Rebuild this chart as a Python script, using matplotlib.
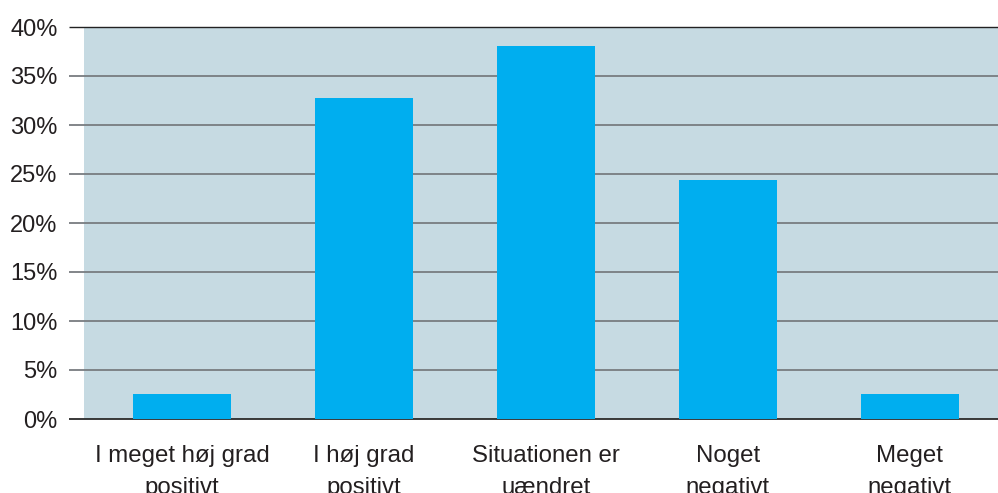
import matplotlib.pyplot as plt

plt.rcParams['font.family'] = ['Liberation Sans', 'DejaVu Sans']

# Survey answers and share of respondents (%)
categories = ['I meget høj grad\npositivt', 'I høj grad\npositivt', 'Situationen er\nuændret',
              'Noget\nnegativt', 'Meget\nnegativt']
shares = [2.6, 32.8, 38.1, 24.4, 2.6]
y_ticks = [0, 5, 10, 15, 20, 25, 30, 35, 40]
y_labels = [f'{t}%' for t in y_ticks]

text_color = '#231f20'

fig = plt.figure(figsize=(9.98, 4.93), dpi=100)
ax = fig.add_axes([84 / 998, 74 / 493, 914 / 998, 392 / 493])
ax.set_facecolor('#c6dae2')

x = range(len(categories))
ax.bar(x, shares, width=0.54, color='#00aeef', zorder=3)

ax.set_xlim(-0.538, 4.484)
ax.set_ylim(0, 40)

# horizontal rules reach a little past the left edge of the plot area
ext = -15 / 914
for t in y_ticks:
    if t == 0:
        col, lw = '#2a2a2a', 1.3
    elif t == 40:
        col, lw = '#222222', 1.0
    else:
        col, lw = '#787c80', 1.3
    ax.hlines(t, ext, 1, transform=ax.get_yaxis_transform(), colors=col,
              linewidth=lw, clip_on=False, zorder=2)

ax.set_yticks(y_ticks)
ax.set_yticklabels(y_labels, fontsize=17, color=text_color)
ax.set_xticks(list(x))
ax.set_xticklabels(categories, fontsize=17.3, color=text_color, linespacing=1.55)
ax.tick_params(axis='y', length=0, pad=19)
ax.tick_params(axis='x', length=0, pad=19)

for s in ax.spines.values():
    s.set_visible(False)

fig.savefig('out.png', dpi=100)
